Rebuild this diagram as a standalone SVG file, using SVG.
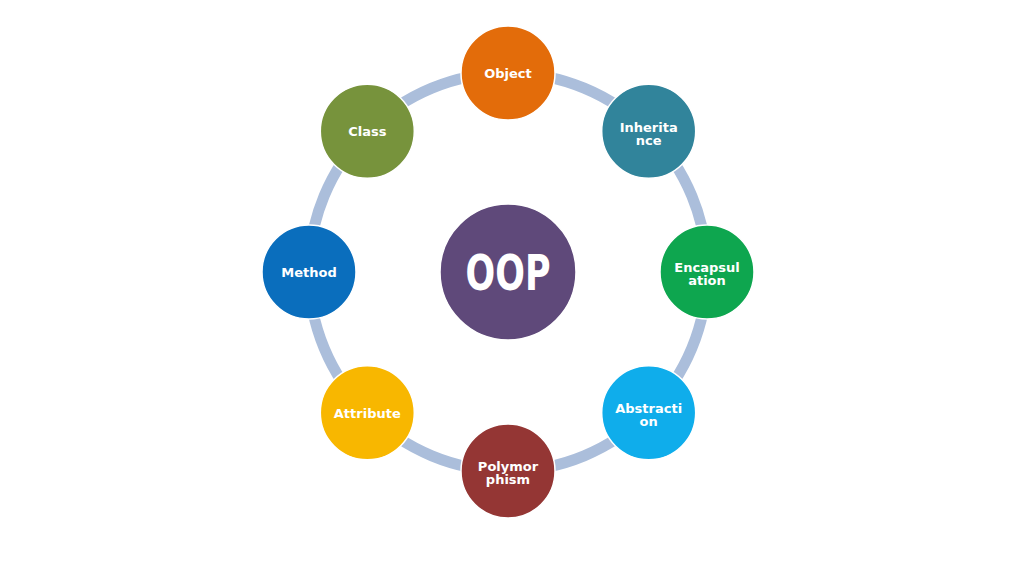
<svg xmlns="http://www.w3.org/2000/svg" width="1024" height="574" viewBox="0 0 1024 574">
<style>
.ring{fill:none;stroke:#abbedb;stroke-width:11}
.node{stroke:#ffffff;stroke-width:1.5}
.lbl{font-family:"DejaVu Sans",Verdana,sans-serif;font-weight:bold;font-size:13px;fill:#ffffff;text-anchor:middle}
.big{font-family:"DejaVu Sans",Verdana,sans-serif;font-weight:bold;font-size:50px;fill:#ffffff;text-anchor:middle}
</style>
<rect width="1024" height="574" fill="#ffffff"/>
<g id="connectors">
<path class="ring" d="M508 73 A199 199 0 0 1 648.7 131.3"/>
<path class="ring" d="M648.7 131.3 A199 199 0 0 1 707 272"/>
<path class="ring" d="M707 272 A199 199 0 0 1 648.7 412.7"/>
<path class="ring" d="M648.7 412.7 A199 199 0 0 1 508 471"/>
<path class="ring" d="M508 471 A199 199 0 0 1 367.3 412.7"/>
<path class="ring" d="M367.3 412.7 A199 199 0 0 1 309 272"/>
<path class="ring" d="M309 272 A199 199 0 0 1 367.3 131.3"/>
<path class="ring" d="M367.3 131.3 A199 199 0 0 1 508 73"/>
</g>
<g id="oop">
<circle cx="508" cy="272" r="68" fill="#5f497a" class="node"/>
<text x="508" y="290" class="big" textLength="85" lengthAdjust="spacingAndGlyphs">OOP</text>
</g>
<g id="object">
<circle cx="508" cy="73" r="47" fill="#e36c0a" class="node"/>
<text x="508" y="78" class="lbl">Object</text>
</g>
<g id="inheritance">
<circle cx="648.7" cy="131.3" r="47" fill="#31849b" class="node"/>
<text x="648.7" y="131.5" class="lbl">Inherita</text>
<text x="648.7" y="144.5" class="lbl">nce</text>
</g>
<g id="encapsulation">
<circle cx="707" cy="272" r="47" fill="#0ea64f" class="node"/>
<text x="707" y="272" class="lbl">Encapsul</text>
<text x="707" y="285" class="lbl">ation</text>
</g>
<g id="abstraction">
<circle cx="648.7" cy="412.7" r="47" fill="#0fadeb" class="node"/>
<text x="648.7" y="412.5" class="lbl">Abstracti</text>
<text x="648.7" y="425.5" class="lbl">on</text>
</g>
<g id="polymorphism">
<circle cx="508" cy="471" r="47" fill="#943634" class="node"/>
<text x="508" y="470.5" class="lbl">Polymor</text>
<text x="508" y="483.5" class="lbl">phism</text>
</g>
<g id="attribute">
<circle cx="367.3" cy="412.7" r="47" fill="#f8b700" class="node"/>
<text x="367.3" y="417.5" class="lbl">Attribute</text>
</g>
<g id="method">
<circle cx="309" cy="272" r="47" fill="#0a6ebd" class="node"/>
<text x="309" y="276.5" class="lbl">Method</text>
</g>
<g id="class">
<circle cx="367.3" cy="131.3" r="47" fill="#77933c" class="node"/>
<text x="367.3" y="136" class="lbl">Class</text>
</g>
</svg>
